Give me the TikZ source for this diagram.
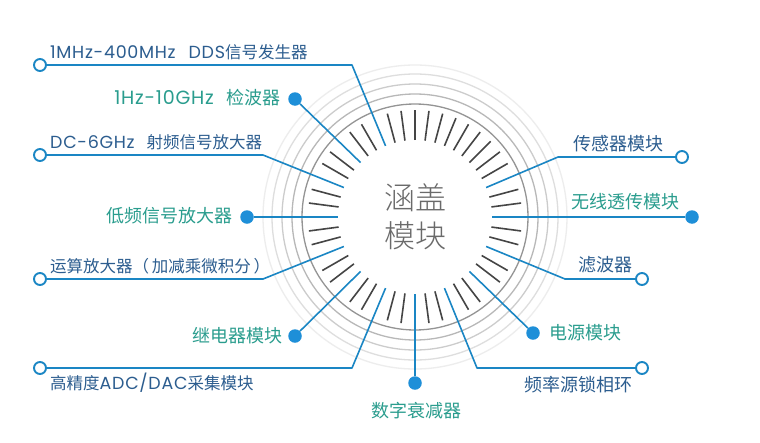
\documentclass[tikz,border=0pt]{standalone}
\usepackage{fontspec}
\setmainfont{Noto Sans CJK SC}
\newfontfamily\cjklight{Noto Sans CJK SC Light}
\newfontfamily\lat{Poppins}[Scale=1.06,LetterSpace=4]
\usetikzlibrary{calc}
\definecolor{lineblue}{HTML}{1A86C4}
\definecolor{dotblue}{HTML}{1E8FD8}
\definecolor{txtblue}{HTML}{2C5D8F}
\definecolor{txtgreen}{HTML}{2A9D8E}
\definecolor{ctrgray}{HTML}{6A6A6A}
\definecolor{tickgray}{HTML}{454545}
\begin{document}
\begin{tikzpicture}[x=1pt,y=-1pt,
  conn/.style={draw=lineblue,line width=1.6pt,line join=round},
  odot/.style={circle,draw=lineblue,line width=1.9pt,fill=white,inner sep=0pt,minimum size=12pt},
  fdot/.style={circle,fill=dotblue,inner sep=0pt,minimum size=13.5pt},
  bluelbl/.style={text=txtblue,inner sep=0pt,font=\fontsize{16.5}{18}\selectfont},
  bluelblr/.style={text=txtblue,inner sep=0pt,font=\fontsize{18}{20}\selectfont},
  greenlbl/.style={text=txtgreen,inner sep=0pt,font=\fontsize{18}{20}\selectfont},
  tickln/.style={draw=tickgray,line width=1.6pt},
  ring/.style={line width=1.3pt}]
\useasboundingbox[fill=white] (0,0) rectangle (760,442);

% centre
\node[text=ctrgray,align=center,inner sep=0pt,font=\cjklight\fontsize{31}{38}\selectfont] (ctr) at (415,217) {涵盖\\模块};

% rings
\draw[ring,draw=black!42] (ctr.center) circle[radius=113pt];
\draw[ring,draw=black!28] (ctr.center) circle[radius=123pt];
\draw[ring,draw=black!20] (ctr.center) circle[radius=133pt];
\draw[ring,draw=black!13] (ctr.center) circle[radius=143pt];
\draw[ring,draw=black!7] (ctr.center) circle[radius=152pt];

% ticks
\foreach \k in {1,2,4,5,6,7,8,9,10,11,12,13,14,16,17,19,20,22,23,25,26,28,29,31,32,34,35,37,38,40,41,43,44,46,47}
  \draw[tickln] ([shift={(\k*7.5:77pt)}]ctr.center) -- ([shift={(\k*7.5:107pt)}]ctr.center);

% inner ends
\foreach \n/\a in {1/112.5,2/135,3/157.5,4/180,5/202.5,6/225,7/247.5,8/270,9/292.5,10/315,11/337.5,12/0,13/22.5}
  \coordinate (i\n) at ([shift={(\a:77pt)}]ctr.center);

% bends
\coordinate (b1) at (352,65);
\coordinate (b3) at (263,155);
\coordinate (b5) at (263,279);
\coordinate (b7) at (352,368);
\coordinate (b9) at (477,368);
\coordinate (b11) at (565,279);
\coordinate (b13) at (558,157);

% end markers
\node[odot] (d1) at (40,65) {};
\node[fdot] (d2) at (295,99) {};
\node[odot] (d3) at (40,155) {};
\node[fdot] (d4) at (247,217) {};
\node[odot] (d5) at (40,279) {};
\node[fdot] (d6) at (295,336) {};
\node[odot] (d7) at (40,368) {};
\node[fdot] (d8) at (415,383) {};
\node[odot] (d9) at (642,368) {};
\node[fdot] (d10) at (533,333) {};
\node[odot] (d11) at (642,279) {};
\node[fdot] (d12) at (692,217) {};
\node[odot] (d13) at (682,157) {};

% connectors
\draw[conn] (d1) -- (b1) -- (i1);
\draw[conn] (d2) -- (i2);
\draw[conn] (d3) -- (b3) -- (i3);
\draw[conn] (d4) -- (i4);
\draw[conn] (d5) -- (b5) -- (i5);
\draw[conn] (d6) -- (i6);
\draw[conn] (d7) -- (b7) -- (i7);
\draw[conn] (d8) -- (i8);
\draw[conn] (d9) -- (b9) -- (i9);
\draw[conn] (d10) -- (i10);
\draw[conn] (d11) -- (b11) -- (i11);
\draw[conn] (d12) -- (i12);
\draw[conn] (d13) -- (b13) -- (i13);

% labels
\node[bluelbl,anchor=west] (t1) at (50,52) {{\lat 1MHz-400MHz}\hspace{13pt}{\lat DDS}信号发生器};
\node[greenlbl,anchor=east] (t2) at (281,98) {{\lat 1Hz-10GHz}\hspace{13pt}检波器};
\node[bluelbl,anchor=west] (t3) at (50,142) {{\lat DC-6GHz}\hspace{12pt}射频信号放大器};
\node[greenlbl,anchor=east] (t4) at (233,216) {低频信号放大器};
\node[bluelbl,anchor=west] (t5) at (50,266) {运算放大器（\,加减乘微积分\,）};
\node[greenlbl,anchor=east] (t6) at (283,336) {继电器模块};
\node[bluelbl,anchor=west] (t7) at (50,383) {高精度{\lat ADC/DAC}采集模块};
\node[greenlbl] (t8) at (416,411) {数字衰减器};
\node[bluelblr] (t9) at (578,385) {频率源锁相环};
\node[greenlbl,anchor=west] (t10) at (549,333) {电源模块};
\node[bluelblr] (t11) at (605,265) {滤波器};
\node[greenlbl] (t12) at (625,202) {无线透传模块};
\node[bluelblr] (t13) at (618,144) {传感器模块};
\end{tikzpicture}
\end{document}
